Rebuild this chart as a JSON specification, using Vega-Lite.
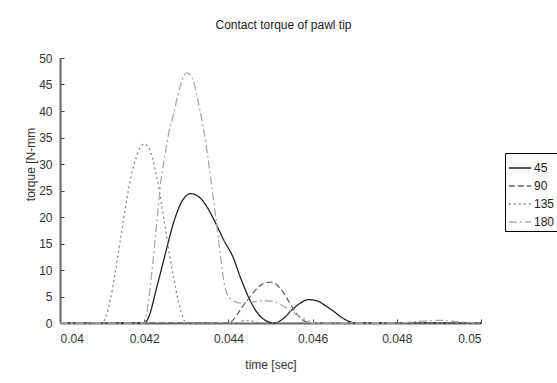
{
  "$schema": "https://vega.github.io/schema/vega-lite/v6.json",
  "width": 421,
  "height": 265,
  "autosize": {"type": "none"},
  "padding": {"left": 60, "top": 58, "right": 76, "bottom": 60},
  "background": "white",
  "title": {"text": "Contact torque of pawl tip", "fontSize": 12, "fontWeight": "normal", "font": "Liberation Sans", "color": "#222", "dx": 13, "offset": 20},
  "config": {
    "view": {"stroke": null},
    "font": "Liberation Sans",
    "axis": {"grid": false, "domainColor": "#666", "domainWidth": 2, "tickColor": "#444", "tickSize": -4, "tickWidth": 1, "labelFont": "Liberation Sans", "labelFontSize": 12, "labelColor": "#333", "titleFont": "Liberation Sans", "titleFontSize": 12, "titleFontWeight": "normal", "titleColor": "#333"}
  },
  "data": {"values": [
    {"t":0.04,"v":0,"s":"45"},{"t":0.042,"v":0,"s":"45"},{"t":0.0421,"v":1,"s":"45"},{"t":0.0423,"v":6.8,"s":"45"},{"t":0.0425,"v":13,"s":"45"},{"t":0.0427,"v":19,"s":"45"},{"t":0.0429,"v":23,"s":"45"},{"t":0.0431,"v":24.4,"s":"45"},{"t":0.0433,"v":23.8,"s":"45"},{"t":0.0435,"v":21.8,"s":"45"},{"t":0.0437,"v":18.8,"s":"45"},{"t":0.0439,"v":15.5,"s":"45"},{"t":0.0441,"v":12.6,"s":"45"},{"t":0.0443,"v":8.3,"s":"45"},{"t":0.0445,"v":4.5,"s":"45"},{"t":0.0447,"v":1.8,"s":"45"},{"t":0.0449,"v":0.4,"s":"45"},{"t":0.0451,"v":0,"s":"45"},{"t":0.0453,"v":0.8,"s":"45"},{"t":0.0455,"v":2.4,"s":"45"},{"t":0.0457,"v":3.7,"s":"45"},{"t":0.0459,"v":4.4,"s":"45"},{"t":0.0461,"v":4.2,"s":"45"},{"t":0.0463,"v":3.3,"s":"45"},{"t":0.0465,"v":2.2,"s":"45"},{"t":0.0467,"v":1,"s":"45"},{"t":0.0469,"v":0.2,"s":"45"},{"t":0.047,"v":0,"s":"45"},{"t":0.05,"v":0,"s":"45"},
    {"t":0.04,"v":0,"s":"90"},{"t":0.044,"v":0,"s":"90"},{"t":0.0441,"v":0.5,"s":"90"},{"t":0.0442,"v":1.5,"s":"90"},{"t":0.0443,"v":2.7,"s":"90"},{"t":0.0444,"v":3.8,"s":"90"},{"t":0.0445,"v":4.8,"s":"90"},{"t":0.0446,"v":5.8,"s":"90"},{"t":0.0447,"v":6.7,"s":"90"},{"t":0.0448,"v":7.3,"s":"90"},{"t":0.0449,"v":7.6,"s":"90"},{"t":0.045,"v":7.7,"s":"90"},{"t":0.0451,"v":7.5,"s":"90"},{"t":0.0452,"v":6.8,"s":"90"},{"t":0.0453,"v":5.8,"s":"90"},{"t":0.0454,"v":4.5,"s":"90"},{"t":0.0455,"v":3.2,"s":"90"},{"t":0.0456,"v":2,"s":"90"},{"t":0.0457,"v":1,"s":"90"},{"t":0.0458,"v":0.4,"s":"90"},{"t":0.0459,"v":0.1,"s":"90"},{"t":0.046,"v":0,"s":"90"},{"t":0.05,"v":0,"s":"90"},
    {"t":0.04,"v":0,"s":"135"},{"t":0.041,"v":0,"s":"135"},{"t":0.0411,"v":1.5,"s":"135"},{"t":0.0412,"v":4.5,"s":"135"},{"t":0.0413,"v":9,"s":"135"},{"t":0.0414,"v":14,"s":"135"},{"t":0.0415,"v":19,"s":"135"},{"t":0.0416,"v":24,"s":"135"},{"t":0.0417,"v":28,"s":"135"},{"t":0.0418,"v":31,"s":"135"},{"t":0.0419,"v":33,"s":"135"},{"t":0.042,"v":33.8,"s":"135"},{"t":0.0421,"v":33.2,"s":"135"},{"t":0.0422,"v":31,"s":"135"},{"t":0.0423,"v":27.5,"s":"135"},{"t":0.0424,"v":23,"s":"135"},{"t":0.0425,"v":18,"s":"135"},{"t":0.0426,"v":13,"s":"135"},{"t":0.0427,"v":8.5,"s":"135"},{"t":0.0428,"v":4.5,"s":"135"},{"t":0.0429,"v":1.5,"s":"135"},{"t":0.043,"v":0,"s":"135"},{"t":0.0442,"v":0,"s":"135"},{"t":0.0444,"v":0.5,"s":"135"},{"t":0.0446,"v":0.3,"s":"135"},{"t":0.0448,"v":0,"s":"135"},{"t":0.05,"v":0,"s":"135"},
    {"t":0.04,"v":0,"s":"180"},{"t":0.042,"v":0,"s":"180"},{"t":0.0421,"v":4,"s":"180"},{"t":0.0422,"v":11,"s":"180"},{"t":0.0423,"v":19,"s":"180"},{"t":0.0424,"v":27,"s":"180"},{"t":0.0425,"v":32,"s":"180"},{"t":0.0426,"v":36.5,"s":"180"},{"t":0.0427,"v":39.5,"s":"180"},{"t":0.0428,"v":43,"s":"180"},{"t":0.0429,"v":45.8,"s":"180"},{"t":0.043,"v":47.2,"s":"180"},{"t":0.0431,"v":46.8,"s":"180"},{"t":0.0432,"v":44.8,"s":"180"},{"t":0.0433,"v":41,"s":"180"},{"t":0.0434,"v":37,"s":"180"},{"t":0.0435,"v":32,"s":"180"},{"t":0.0436,"v":26,"s":"180"},{"t":0.0437,"v":20,"s":"180"},{"t":0.0438,"v":13.5,"s":"180"},{"t":0.0439,"v":7.5,"s":"180"},{"t":0.044,"v":5,"s":"180"},{"t":0.0441,"v":4.3,"s":"180"},{"t":0.0442,"v":3.9,"s":"180"},{"t":0.0443,"v":3.8,"s":"180"},{"t":0.0445,"v":3.9,"s":"180"},{"t":0.0447,"v":4.1,"s":"180"},{"t":0.0449,"v":4.2,"s":"180"},{"t":0.0451,"v":4,"s":"180"},{"t":0.0453,"v":3.2,"s":"180"},{"t":0.0455,"v":2.2,"s":"180"},{"t":0.0457,"v":1.2,"s":"180"},{"t":0.0459,"v":0.4,"s":"180"},{"t":0.046,"v":0,"s":"180"},{"t":0.048,"v":0,"s":"180"},{"t":0.0485,"v":0.3,"s":"180"},{"t":0.049,"v":0.5,"s":"180"},{"t":0.0495,"v":0.2,"s":"180"},{"t":0.05,"v":0,"s":"180"}
  ]},
  "mark": {"type": "line", "interpolate": "monotone", "strokeWidth": 1.3},
  "encoding": {
    "x": {"field": "t", "type": "quantitative", "scale": {"domain": [0.04, 0.05], "nice": false, "zero": false}, "axis": {"values": [0.04, 0.042, 0.044, 0.046, 0.048, 0.05], "format": ".3~f", "title": "time [sec]", "labelPadding": 14, "titleY": 41, "titleBaseline": "middle"}},
    "y": {"field": "v", "type": "quantitative", "scale": {"domain": [0, 50], "nice": false}, "axis": {"values": [0,5,10,15,20,25,30,35,40,45,50], "title": "torque [N-mm", "labelPadding": 12, "titleX": -30, "titleY": 106, "titleBaseline": "middle"}},
    "color": {"field": "s", "type": "nominal", "sort": ["45","90","135","180"], "scale": {"domain": ["45","90","135","180"], "range": ["#222222", "#666666", "#888888", "#aaaaaa"]}, "legend": {"title": null, "orient": "none", "legendX": 445, "legendY": 95, "strokeColor": "#000", "padding": 3, "symbolType": "stroke", "symbolSize": 500, "symbolStrokeWidth": 1.5, "labelFontSize": 12, "labelColor": "#222", "rowPadding": -3.5, "labelOffset": 2}},
    "strokeDash": {"field": "s", "type": "nominal", "sort": ["45","90","135","180"], "scale": {"domain": ["45","90","135","180"], "range": [[1,0], [6,3], [2,3], [8,3,2,3]]}, "legend": {"title": null}}
  }
}
